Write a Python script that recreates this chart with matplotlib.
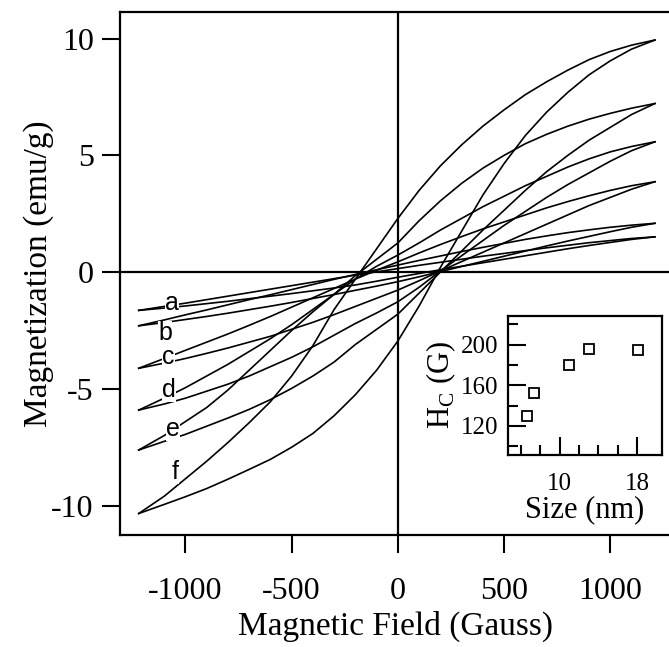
import numpy as np
import matplotlib
matplotlib.use("Agg")
from matplotlib import pyplot as plt

plt.rcParams['font.family'] = ['Liberation Serif', 'DejaVu Serif']
plt.rcParams['axes.unicode_minus'] = False

# field grid (Gauss) shared by every branch
field = [-1220, -1100, -1000, -900, -800, -700, -600, -500, -400, -300, -200, -100, 0,
         100, 200, 300, 400, 500, 600, 700, 800, 900, 1000, 1100, 1210]

# magnetization (emu/g): descending (upper) and ascending (lower) branch of each loop
a_down = [-1.64, -1.47, -1.33, -1.18, -1.03, -0.88, -0.73, -0.58, -0.43, -0.28, -0.13, 0.01, 0.15,
          0.29, 0.42, 0.55, 0.68, 0.80, 0.92, 1.04, 1.15, 1.26, 1.35, 1.44, 1.51]
a_up = [-1.64, -1.54, -1.45, -1.35, -1.25, -1.14, -1.03, -0.92, -0.80, -0.68, -0.55, -0.39, -0.22,
        -0.06, 0.10, 0.25, 0.40, 0.55, 0.70, 0.85, 1.00, 1.14, 1.27, 1.40, 1.51]
b_down = [-2.30, -2.05, -1.83, -1.62, -1.40, -1.18, -0.97, -0.75, -0.53, -0.31, -0.10, 0.10, 0.30,
          0.50, 0.69, 0.88, 1.06, 1.23, 1.40, 1.55, 1.69, 1.81, 1.92, 2.01, 2.09]
b_up = [-2.30, -2.16, -2.03, -1.90, -1.76, -1.61, -1.46, -1.30, -1.13, -0.96, -0.78, -0.60, -0.41,
        -0.20, 0.02, 0.24, 0.46, 0.68, 0.90, 1.12, 1.33, 1.53, 1.73, 1.92, 2.09]
c_down = [-4.12, -3.70, -3.35, -3.00, -2.65, -2.28, -1.90, -1.50, -1.10, -0.70, -0.30, 0.08, 0.44,
          0.82, 1.18, 1.52, 1.85, 2.15, 2.45, 2.75, 3.02, 3.27, 3.50, 3.70, 3.87]
c_up = [-4.12, -3.90, -3.70, -3.48, -3.25, -3.00, -2.75, -2.45, -2.15, -1.82, -1.47, -1.12, -0.77,
        -0.37, 0.05, 0.45, 0.85, 1.25, 1.65, 2.05, 2.45, 2.85, 3.20, 3.55, 3.87]
d_down = [-5.91, -5.40, -4.95, -4.45, -3.95, -3.40, -2.85, -2.25, -1.60, -0.95, -0.30, 0.25, 0.73,
          1.25, 1.80, 2.30, 2.80, 3.25, 3.70, 4.10, 4.50, 4.85, 5.15, 5.38, 5.58]
d_up = [-5.91, -5.65, -5.40, -5.10, -4.80, -4.45, -4.05, -3.65, -3.20, -2.70, -2.20, -1.75, -1.27,
        -0.65, 0.05, 0.70, 1.35, 2.00, 2.60, 3.20, 3.75, 4.25, 4.75, 5.20, 5.58]
e_down = [-7.62, -7.00, -6.40, -5.80, -5.05, -4.20, -3.35, -2.50, -1.70, -0.95, -0.15, 0.55, 1.25,
          2.20, 3.05, 3.80, 4.45, 5.00, 5.50, 5.90, 6.25, 6.55, 6.80, 7.02, 7.22]
e_up = [-7.62, -7.25, -6.95, -6.60, -6.25, -5.88, -5.46, -4.98, -4.45, -3.85, -3.10, -2.45, -1.80,
        -0.90, 0.00, 0.90, 1.80, 2.65, 3.50, 4.30, 5.00, 5.65, 6.20, 6.75, 7.22]
f_down = [-10.34, -9.60, -8.85, -8.10, -7.30, -6.45, -5.55, -4.45, -3.15, -1.60, -0.30, 1.00, 2.30,
          3.50, 4.55, 5.45, 6.25, 6.95, 7.60, 8.15, 8.65, 9.10, 9.45, 9.72, 9.94]
f_up = [-10.34, -9.95, -9.62, -9.27, -8.87, -8.45, -8.02, -7.50, -6.91, -6.15, -5.25, -4.20, -2.95,
        -1.45, 0.20, 1.75, 3.30, 4.65, 5.85, 6.85, 7.70, 8.45, 9.05, 9.55, 9.94]

loops = [("a", a_down, a_up), ("b", b_down, b_up), ("c", c_down, c_up),
         ("d", d_down, d_up), ("e", e_down, e_up), ("f", f_down, f_up)]

# where the letters sit (field, magnetization)
label_h = [-1064, -1096, -1082, -1078, -1059, -1049]
label_m = [-1.33, -2.60, -3.64, -5.05, -6.72, -8.57]

# inset: coercive field vs particle size
size_nm = [6.6, 7.4, 11.0, 13.0, 18.1]
hc_gauss = [130, 152, 180, 196, 195]

fig = plt.figure(figsize=(6.69, 6.47), dpi=100)
ax = fig.add_axes([0.1794, 0.1731, 0.825, 0.808])

for name, down, up in loops:
    ax.plot(field, down, color='black', lw=1.2)
    ax.plot(field, up, color='black', lw=1.2)

ax.axhline(0, color='black', lw=1.6)
ax.axvline(0, color='black', lw=1.6)

for name, h, m in zip("abcdef", label_h, label_m):
    ax.text(h, m, name, family=['Liberation Sans', 'DejaVu Sans'], fontsize=18,
            ha='center', va='center',
            bbox=dict(facecolor='white', edgecolor='none', pad=0.2))

ax.set_xlim(-1308, 1290)
ax.set_ylim(-11.26, 11.13)
ax.set_xticks([-1000, -500, 0, 500, 1000])
ax.set_yticks([-10, -5, 0, 5, 10])
ax.tick_params(direction='out', length=13, width=1.5, labelsize=23)
ax.tick_params(axis='x', pad=17)
ax.tick_params(axis='y', pad=6)
for s in ax.spines.values():
    s.set_linewidth(1.6)
ax.set_xlabel("Magnetic Field (Gauss)", fontsize=24, labelpad=4)
ax.set_ylabel("Magnetization (emu/g)", fontsize=24, labelpad=-2)

ins = fig.add_axes([0.759, 0.297, 0.230, 0.215])
ins.plot(size_nm, hc_gauss, ls='none', marker='s', ms=7, mfc='white',
         mec='black', mew=1.3)
ins.set_xlim(4.67, 20.5)
ins.set_ylim(91.5, 228.5)
ins.set_xticks([10, 18])
ins.set_xticks([6, 8, 12, 14, 16], minor=True)
ins.set_yticks([120, 160, 200])
ins.set_yticks([100, 140, 180, 220], minor=True)
ins.tick_params(which='both', direction='in', width=1.5, labelsize=18)
ins.tick_params(which='major', length=13)
ins.tick_params(which='minor', length=7)
ins.tick_params(axis='x', which='both', pad=13)
ins.tick_params(axis='y', which='both', pad=7)
for s in ins.spines.values():
    s.set_linewidth(1.6)
ins.set_xlabel("Size (nm)", fontsize=22, labelpad=0)
ins.set_ylabel("H$_\\mathregular{C}$ (G)", fontsize=22, labelpad=2)

fig.savefig("out.png", dpi=100)
